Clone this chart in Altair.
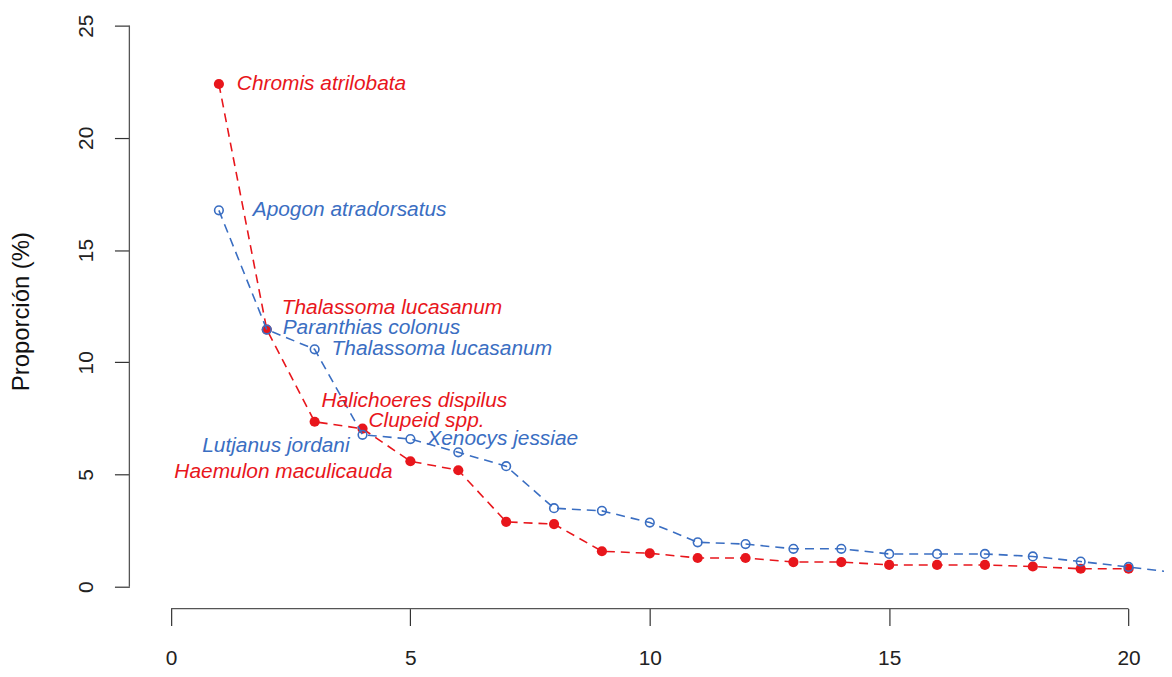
import altair as alt
import pandas as pd

# ---- data ----
red_ranks = list(range(1, 21))
red_values = [22.4, 11.46, 7.35, 7.04, 5.59, 5.19, 2.89, 2.79, 1.58, 1.49,
              1.28, 1.28, 1.1, 1.1, 0.97, 0.97, 0.97, 0.9, 0.8, 0.8]
blue_ranks = list(range(1, 22))
blue_values = [16.77, 11.46, 10.58, 6.77, 6.58, 5.99, 5.37, 3.5, 3.38, 2.86,
               1.98, 1.9, 1.69, 1.69, 1.46, 1.46, 1.46, 1.35, 1.12, 0.88, 0.62]
red_labels = ["Chromis atrilobata", "Thalassoma lucasanum", "Halichoeres dispilus",
              "Clupeid spp.", "Haemulon maculicauda"]
blue_labels = ["Apogon atradorsatus", "Paranthias colonus", "Thalassoma lucasanum",
               "Lutjanus jordani", "Xenocys jessiae"]
x_ticks = [0, 5, 10, 15, 20]
y_ticks = [0, 5, 10, 15, 20, 25]
y_title = "Proporción (%)"

# ---- styles ----
RED = "#e8161c"
BLUE = "#3a6ec2"
FONT = "Liberation Sans"
W, H = 1040, 602
X_DOM = [-0.87, 20.74]
Y_DOM = [-0.975, 25.71]

# label placement (align, dx, dy) per rank 1..5
red_place = [("left", 18, 0), ("left", 15, -22), ("left", 7, -21), ("left", 6, -8), ("right", -18, 11)]
blue_place = [("left", 34, 0), ("left", 16, -2), ("left", 17, 0), ("right", -13, 11), ("left", 17, 0)]

red_df = pd.DataFrame({"rank": red_ranks, "value": red_values, "serie": "red"})
blue_df = pd.DataFrame({"rank": blue_ranks, "value": blue_values, "serie": "blue"})
red_df["label"] = red_labels + [""] * (len(red_ranks) - len(red_labels))
blue_df["label"] = blue_labels + [""] * (len(blue_ranks) - len(blue_labels))

xs = alt.Scale(domain=X_DOM, nice=False, zero=False)
ys = alt.Scale(domain=Y_DOM, nice=False, zero=False)

x_axis = alt.Axis(values=x_ticks, domain=False, grid=False, tickSize=17, tickColor="#333",
                  tickWidth=1.2, labelFont=FONT, labelFontSize=21, labelColor="#222",
                  labelPadding=22, labelBaseline="top", title=None, labelFlush=False)
y_axis = alt.Axis(values=y_ticks, domain=False, grid=False, tickSize=15, tickColor="#333",
                  tickWidth=1.2, labelFont=FONT, labelFontSize=21, labelColor="#222",
                  labelAngle=270, labelAlign="center", labelBaseline="alphabetic",
                  labelPadding=22, title=y_title, titleFont=FONT, titleFontSize=24,
                  titleFontWeight="normal", titleColor="#111", titleAngle=270,
                  titleAlign="center", titleBaseline="middle", titleX=-108, titleY=303,
                  labelFlush=False)

def series_layers(df, color, filled, size):
    base = alt.Chart(df)
    line = base.mark_line(color=color, strokeWidth=1.6, strokeDash=[9, 6], clip=True).encode(
        x=alt.X("rank:Q", scale=xs, axis=x_axis),
        y=alt.Y("value:Q", scale=ys, axis=y_axis),
    )
    pts = base.mark_point(shape="circle", filled=filled, color=color, size=size,
                          strokeWidth=1.6, opacity=1, clip=True).encode(
        x=alt.X("rank:Q", scale=xs),
        y=alt.Y("value:Q", scale=ys),
    )
    return [line, pts]

def label_layers(df, color, places):
    out = []
    for i, (align, dx, dy) in enumerate(places):
        sub = df[df["rank"] == i + 1]
        out.append(alt.Chart(sub).mark_text(
            align=align, baseline="middle", dx=dx, dy=dy, font=FONT, fontSize=21,
            fontStyle="italic", color=color).encode(
            x=alt.X("rank:Q", scale=xs),
            y=alt.Y("value:Q", scale=ys),
            text="label:N"))
    return out

axis_df = pd.DataFrame({"x0": [x_ticks[0]], "x1": [x_ticks[-1]],
                        "y0": [y_ticks[0]], "y1": [y_ticks[-1]]})
x_line = alt.Chart(axis_df).mark_rule(color="#555", strokeWidth=1.3).encode(
    x=alt.X("x0:Q", scale=xs), x2="x1:Q", y=alt.value(H))
y_line = alt.Chart(axis_df).mark_rule(color="#555", strokeWidth=1.3).encode(
    y=alt.Y("y0:Q", scale=ys), y2="y1:Q", x=alt.value(0))

layers = (series_layers(red_df, RED, True, 105) + series_layers(blue_df, BLUE, False, 75)
          + label_layers(red_df, RED, red_place) + label_layers(blue_df, BLUE, blue_place)
          + [x_line, y_line])

chart = alt.layer(*layers).properties(
    width=W, height=H,
    autosize=alt.AutoSizeParams(type="none"),
    padding={"left": 122, "top": 0, "right": 0, "bottom": 60},
).configure_view(stroke=None)

chart.save("out.html", embed_options={"renderer": "svg", "actions": False})
